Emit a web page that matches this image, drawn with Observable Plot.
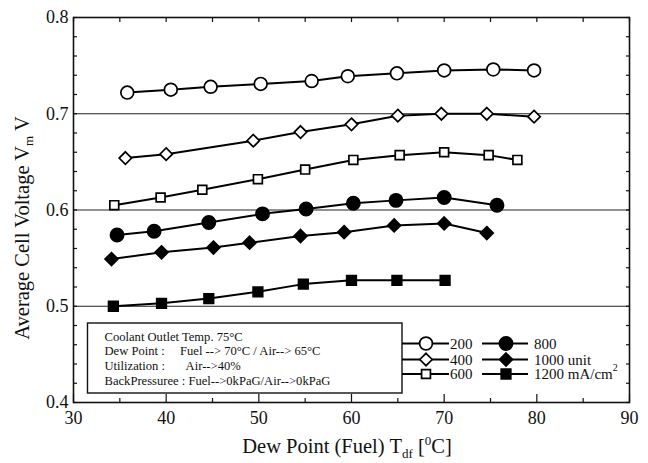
<!DOCTYPE html>
<html><head><meta charset="utf-8">
<script src="https://cdn.jsdelivr.net/npm/d3@7"></script>
<script src="https://cdn.jsdelivr.net/npm/@observablehq/plot@0.6"></script>
<style>body{margin:0;background:#fff} #chart svg{display:block}</style>
</head><body><div id="chart"></div>
<script>
// Series: current density (mA/cm2)
const seriesNames = ["200", "400", "600", "800", "1000", "1200"];
const legendLabels = ["200", "400", "600", "800", "1000 unit", "1200 mA/cm"];

const t200 = [35.8, 40.5, 44.8, 50.2, 55.7, 59.6, 64.9, 70.0, 75.3, 79.7];
const v200 = [0.722, 0.725, 0.728, 0.731, 0.734, 0.739, 0.742, 0.745, 0.746, 0.745];

const t400 = [35.6, 40.0, 49.4, 54.5, 60.0, 65.0, 69.7, 74.6, 79.7];
const v400 = [0.654, 0.658, 0.672, 0.681, 0.689, 0.698, 0.700, 0.700, 0.697];

const t600 = [34.4, 39.4, 43.9, 49.9, 55.0, 60.2, 65.2, 70.0, 74.8, 77.9];
const v600 = [0.605, 0.613, 0.621, 0.632, 0.642, 0.652, 0.657, 0.660, 0.657, 0.652];

const t800 = [34.7, 38.7, 44.6, 50.4, 55.1, 60.2, 64.8, 70.0, 75.7];
const v800 = [0.574, 0.578, 0.587, 0.596, 0.601, 0.607, 0.610, 0.613, 0.605];

const t1000 = [34.1, 39.5, 45.1, 49.0, 54.5, 59.2, 64.6, 70.0, 74.6];
const v1000 = [0.549, 0.556, 0.561, 0.566, 0.573, 0.577, 0.584, 0.586, 0.576];

const t1200 = [34.3, 39.5, 44.6, 49.9, 54.8, 60.0, 64.9, 70.1];
const v1200 = [0.500, 0.503, 0.508, 0.515, 0.523, 0.527, 0.527, 0.527];

const xTicksMajor = [30, 40, 50, 60, 70, 80, 90];
const yTicksMajor = [0.4, 0.5, 0.6, 0.7, 0.8];
const gridY = [0.5, 0.6, 0.7];

const boxLines = [
  ["Coolant Outlet Temp. 75°C", ""],
  ["Dew Point :", "Fuel --> 70°C / Air--> 65°C"],
  ["Utilization :", "  Air-->40%"],
  ["BackPressuree : Fuel-->0kPaG/Air-->0kPaG", ""]
];

const tArr = [t200, t400, t600, t800, t1000, t1200];
const vArr = [v200, v400, v600, v800, v1000, v1200];
const styles = [
  {symbol: d3.symbolCircle, fill: "white", r: 6.4},
  {symbol: d3.symbolDiamond2, fill: "white", r: 5.6},
  {symbol: d3.symbolSquare, fill: "white", r: 5.0},
  {symbol: d3.symbolCircle, fill: "black", r: 6.6},
  {symbol: d3.symbolDiamond2, fill: "black", r: 5.8},
  {symbol: d3.symbolSquare, fill: "black", r: 5.4}
];

const rows = seriesNames.map((s, i) => tArr[i].map((t, j) => ({s, t, v: vArr[i][j]})));

const font = '"Liberation Serif", "Times New Roman", serif';
const W = 648, H = 463;
const mL = 73, mR = 19, mT = 17, mB = 61;

const seriesMarks = rows.flatMap((d, i) => [
  Plot.line(d, {x: "t", y: "v", stroke: "black", strokeWidth: 2}),
  Plot.dot(d, {x: "t", y: "v", symbol: styles[i].symbol, r: styles[i].r, fill: styles[i].fill, stroke: "black", strokeWidth: 1.7})
]);

const yMinor = d3.range(0, 21).map(i => +(0.4 + i * 0.02).toFixed(2));

const plot = Plot.plot({
  width: W, height: H,
  marginLeft: mL, marginRight: mR, marginTop: mT, marginBottom: mB,
  style: {fontFamily: font, color: "#111", background: "white"},
  x: {domain: [30, 90], label: null},
  y: {domain: [0.4, 0.8], label: null},
  marks: [
    Plot.ruleY(gridY, {stroke: "#222", strokeWidth: 1}),
    // inward ticks
    Plot.axisX({anchor: "bottom", ticks: xTicksMajor, tickSize: -8, text: null, stroke: "#111", strokeWidth: 1.2}),
    Plot.axisX({anchor: "bottom", ticks: d3.range(35, 90, 10), tickSize: -4, text: null, stroke: "#111", strokeWidth: 1.2}),
    Plot.axisX({anchor: "top", ticks: d3.range(30, 91, 5), tickSize: -4, text: null, stroke: "#111", strokeWidth: 1.2}),
    Plot.axisY({anchor: "left", ticks: yMinor, tickSize: -4, text: null, stroke: "#111", strokeWidth: 1.2}),
    Plot.axisY({anchor: "right", ticks: yMinor, tickSize: -4, text: null, stroke: "#111", strokeWidth: 1.2}),
    // labels
    Plot.axisX({anchor: "bottom", ticks: xTicksMajor, tickSize: 0, tickPadding: 9, fontSize: 18, fontFamily: font, tickFormat: d => String(d)}),
    Plot.axisY({anchor: "left", ticks: yTicksMajor, tickSize: 0, tickPadding: 5, fontSize: 18, fontFamily: font, tickFormat: d3.format(".1f")}),
    ...seriesMarks,
    Plot.frame({stroke: "#111", strokeWidth: 1.6})
  ]
});

document.getElementById("chart").appendChild(plot);
const svg = d3.select(plot);

// Axis titles
const yl = svg.append("text")
  .attr("transform", "translate(29,228) rotate(-90)")
  .attr("text-anchor", "middle")
  .style("font-family", font).style("font-size", "20.5px").attr("fill", "#111");
yl.append("tspan").text("Average Cell Voltage V");
yl.append("tspan").style("font-size", "13px").attr("dy", 4).text("m");
yl.append("tspan").attr("dy", -4).text(" V");

const xl = svg.append("text")
  .attr("x", 347).attr("y", 453)
  .attr("text-anchor", "middle")
  .style("font-family", font).style("font-size", "20.5px").attr("fill", "#111");
xl.append("tspan").text("Dew Point (Fuel) T");
xl.append("tspan").style("font-size", "13px").attr("dy", 5).text("df");
xl.append("tspan").attr("dy", -5).text(" [");
xl.append("tspan").style("font-size", "13px").attr("dy", -8).text("0");
xl.append("tspan").attr("dy", 8).text("C]");

// Condition box
svg.append("rect").attr("x", 87.5).attr("y", 323).attr("width", 314.5).attr("height", 70)
  .attr("fill", "white").attr("stroke", "#111").attr("stroke-width", 1.4);
const boxY = [340.5, 355, 369.5, 384.5];
boxLines.forEach((ln, i) => {
  svg.append("text").attr("x", 104.5).attr("y", boxY[i]).attr("text-anchor", "start")
    .style("font-family", font).style("font-size", "12.6px").attr("fill", "#111").text(ln[0]);
  if (ln[1]) svg.append("text").attr("x", 180).attr("y", boxY[i]).attr("text-anchor", "start")
    .style("font-family", font).style("font-size", "12.6px").attr("fill", "#111").text(ln[1]);
});

// Legend
const legRowY = [343.5, 359.5, 374];
const legCols = [{x1: 402, x2: 449, mx: 426, tx: 450}, {x1: 482, x2: 528, mx: 506, tx: 534}];
seriesNames.forEach((s, i) => {
  const c = legCols[Math.floor(i / 3)], y = legRowY[i % 3];
  svg.append("line").attr("x1", c.x1).attr("x2", c.x2).attr("y1", y).attr("y2", y)
    .attr("stroke", "black").attr("stroke-width", 2);
  const st = styles[i];
  svg.append("path").attr("transform", `translate(${c.mx},${y})`)
    .attr("d", d3.symbol(st.symbol, Math.PI * st.r * st.r)())
    .attr("fill", st.fill).attr("stroke", "black").attr("stroke-width", 1.7);
  const tx = svg.append("text").attr("x", c.tx).attr("y", y + 5).attr("text-anchor", "start")
    .style("font-family", font).style("font-size", "15px").attr("fill", "#111");
  tx.append("tspan").text(legendLabels[i]);
  if (i === 5) tx.append("tspan").style("font-size", "10px").attr("dy", -8).text("2");
});
</script>
</body></html>
